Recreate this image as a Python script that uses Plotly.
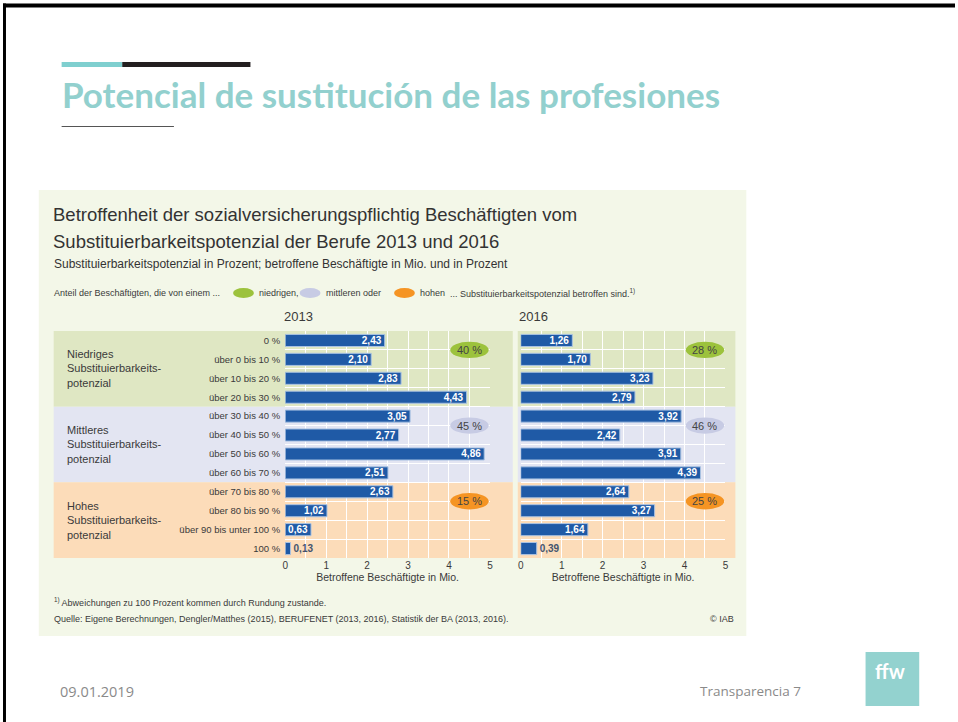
import plotly.graph_objects as go

W, H = 958, 722

def px(x):
    return x / W

def py(y):
    return 1 - y / H

# ---------------- data ----------------
categories = ["0 %", "über 0 bis 10 %", "über 10 bis 20 %", "über 20 bis 30 %",
              "über 30 bis 40 %", "über 40 bis 50 %", "über 50 bis 60 %", "über 60 bis 70 %",
              "über 70 bis 80 %", "über 80 bis 90 %", "über 90 bis unter 100 %", "100 %"]
values_2013 = [2.43, 2.10, 2.83, 4.43, 3.05, 2.77, 4.86, 2.51, 2.63, 1.02, 0.63, 0.13]
values_2016 = [1.26, 1.70, 3.23, 2.79, 3.92, 2.42, 3.91, 4.39, 2.64, 3.27, 1.64, 0.39]
group_names = ["Niedriges<br>Substituierbarkeits-<br>potenzial",
               "Mittleres<br>Substituierbarkeits-<br>potenzial",
               "Hohes<br>Substituierbarkeits-<br>potenzial"]
share_2013 = ["40 %", "45 %", "15 %"]
share_2016 = ["28 %", "46 %", "25 %"]
x_ticks = [0, 1, 2, 3, 4, 5]

# ---------------- styles ----------------
FONT = "Liberation Sans Narrow, Arial Narrow, Liberation Sans, sans-serif"
BAR = "#1f5aa6"
BAND = ["#dfe7c3", "#e3e5f2", "#fcdcb9"]
ELL = ["#9cc23c", "#c7cbe4", "#f59423"]
CREAM = "#f3f7e8"
TEXT = "#3a3a3a"

y_idx = list(range(len(categories)))


def bar_trace(vals, xa, ya):
    pos = ["inside" if v >= 0.5 else "outside" for v in vals]
    return go.Bar(
        x=vals, y=y_idx, orientation="h", xaxis=xa, yaxis=ya,
        width=0.64,
        marker=dict(color=BAR, line=dict(color="#a9c2e2", width=1)),
        texttemplate="<b>%{x:.2f}</b>", textposition=pos,
        insidetextanchor="end",
        insidetextfont=dict(color="white", size=10, family=FONT),
        outsidetextfont=dict(color="#44546e", size=10, family=FONT),
        cliponaxis=False, showlegend=False, hoverinfo="skip",
    )


fig = go.Figure()
fig.add_trace(bar_trace(values_2013, "x", "y"))
fig.add_trace(bar_trace(values_2016, "x2", "y2"))

y_dom = [py(558), py(331)]
axis_common = dict(range=[0, 5], tickvals=x_ticks, showgrid=True, gridcolor="white",
                   gridwidth=1, zeroline=False, showline=False, ticks="",
                   tickfont=dict(size=10, color=TEXT, family=FONT),
                   minor=dict(dtick=0.5, tick0=0, showgrid=True, gridcolor="white", gridwidth=1),
                   title=dict(text="Betroffene Beschäftigte in Mio.",
                              font=dict(size=10.5, color=TEXT, family=FONT), standoff=1),
                   fixedrange=True)
yaxis_common = dict(range=[11.5, -0.5], domain=y_dom, showgrid=False, zeroline=False,
                    showline=False, ticks="",
                    minor=dict(tickvals=[i + 0.5 for i in range(11)], showgrid=True,
                               gridcolor="white", gridwidth=1),
                    fixedrange=True)

fig.update_layout(
    width=W, height=H, autosize=False,
    margin=dict(l=0, r=0, t=0, b=0),
    paper_bgcolor="white", plot_bgcolor="rgba(0,0,0,0)",
    separators=",.",
    bargap=0.3,
    uniformtext=dict(minsize=9, mode="show"),
    xaxis=dict(domain=[px(284), px(490)], anchor="y", **axis_common),
    xaxis2=dict(domain=[px(521), px(727)], anchor="y2", **axis_common),
    yaxis=dict(anchor="x", tickvals=y_idx, ticktext=categories, showticklabels=True,
               ticklabelstandoff=4,
               tickfont=dict(size=9.5, color=TEXT, family=FONT), **yaxis_common),
    yaxis2=dict(anchor="x2", showticklabels=False, **yaxis_common),
)

shapes = []
# slide border (top & left)
shapes.append(dict(type="rect", xref="paper", yref="paper", x0=0, x1=1, y0=py(7.5), y1=py(3.5),
                   fillcolor="black", line=dict(width=0), layer="below"))
shapes.append(dict(type="rect", xref="paper", yref="paper", x0=0, x1=px(3), y0=0, y1=py(3.5),
                   fillcolor="black", line=dict(width=0), layer="below"))
# title decoration bars
shapes.append(dict(type="rect", xref="paper", yref="paper", x0=px(59), x1=px(120), y0=py(67), y1=py(62),
                   fillcolor="#7fcfcf", line=dict(width=0), layer="below"))
shapes.append(dict(type="rect", xref="paper", yref="paper", x0=px(120), x1=px(249), y0=py(67), y1=py(62),
                   fillcolor="#231f20", line=dict(width=0), layer="below"))
shapes.append(dict(type="line", xref="paper", yref="paper", x0=px(59), x1=px(172), y0=py(126.5), y1=py(126.5),
                   line=dict(color="#555555", width=1), layer="below"))
# chart panel background
shapes.append(dict(type="rect", xref="paper", yref="paper", x0=px(36), x1=px(748), y0=py(636), y1=py(190),
                   fillcolor=CREAM, line=dict(width=0), layer="below"))
# category bands
for g in range(3):
    y0, y1 = g * 4 - 0.5, g * 4 + 3.5
    shapes.append(dict(type="rect", xref="paper", yref="y", x0=px(51), x1=px(513), y0=y0, y1=y1,
                       fillcolor=BAND[g], line=dict(width=0), layer="below"))
    shapes.append(dict(type="rect", xref="paper", yref="y", x0=px(518), x1=px(737), y0=y0, y1=y1,
                       fillcolor=BAND[g], line=dict(width=0), layer="below"))
# share ellipses
for g in range(3):
    yc = g * 4 + 0.5
    for xr, yr in (("x", "y"), ("x2", "y2")):
        shapes.append(dict(type="circle", xref=xr, yref=yr, x0=4.03, x1=4.97,
                           y0=yc - 0.43, y1=yc + 0.43,
                           fillcolor=ELL[g], line=dict(width=0), layer="above"))
# legend ellipses (header line)
for cx, col in ((242, ELL[0]), (309, ELL[1]), (404, ELL[2])):
    shapes.append(dict(type="circle", xref="paper", yref="paper", x0=px(cx - 10.5), x1=px(cx + 10.5),
                       y0=py(298), y1=py(288), fillcolor=col, line=dict(width=0), layer="above"))
# logo box
shapes.append(dict(type="rect", xref="paper", yref="paper", x0=px(868), x1=px(922), y0=py(706), y1=py(652),
                   fillcolor="#93d2cf", line=dict(width=0), layer="below"))
fig.update_layout(shapes=shapes)

ann = []


def text(x, y, s, size, color=TEXT, family=FONT, xanchor="left", **kw):
    ann.append(dict(x=px(x), y=py(y), xref="paper", yref="paper", text=s, showarrow=False,
                    xanchor=xanchor, yanchor="middle", align=xanchor if xanchor != "center" else "center",
                    font=dict(size=size, color=color, family=family), **kw))


# slide title
text(57, 94, "<b>Potencial de sustitución de las profesiones</b>", 35, color="#92d0ce",
     family="Lato, Open Sans, sans-serif")
# chart titles
text(48, 215, "Betroffenheit der sozialversicherungspflichtig Beschäftigten vom", 18.5, color="#333333")
text(48, 241, "Substituierbarkeitspotenzial der Berufe 2013 und 2016", 18.5, color="#333333")
text(49, 264, "Substituierbarkeitspotenzial in Prozent; betroffene Beschäftigte in Mio. und in Prozent", 12,
     color="#333333")
# legend line
text(49, 293, "Anteil der Beschäftigten, die von einem ...", 9)
text(256, 293, "niedrigen,", 9)
text(323, 293, "mittleren oder", 9)
text(418, 293, "hohen", 9)
text(448, 293, "... Substituierbarkeitspotenzial betroffen sind.<sup>1)</sup>", 9)
# year headers
text(297, 316, "2013", 13, xanchor="center")
text(534, 316, "2016", 13, xanchor="center")
# group labels
for g in range(3):
    ann.append(dict(x=px(62), y=g * 4 + 1.5, xref="paper", yref="y", text=group_names[g],
                    showarrow=False, xanchor="left", yanchor="middle", align="left",
                    font=dict(size=11, color=TEXT, family=FONT)))
# share labels
for g in range(3):
    yc = g * 4 + 0.5
    ann.append(dict(x=4.5, y=yc, xref="x", yref="y", text=share_2013[g], showarrow=False,
                    font=dict(size=11, color="#444444", family=FONT)))
    ann.append(dict(x=4.5, y=yc, xref="x2", yref="y2", text=share_2016[g], showarrow=False,
                    font=dict(size=11, color="#444444", family=FONT)))
# footnotes
text(49, 602, "<sup>1)</sup> Abweichungen zu 100 Prozent kommen durch Rundung zustande.", 9)
text(49, 619, "Quelle: Eigene Berechnungen, Dengler/Matthes (2015), BERUFENET (2013, 2016), Statistik der BA (2013, 2016).", 9)
text(738, 619, "© IAB", 9, xanchor="right")
# slide footer
text(55, 691, "09.01.2019", 14.5, color="#8a8a8a", family="Open Sans, Lato, sans-serif")
text(805, 691, "Transparencia 7", 13.5, color="#8a8a8a", family="Open Sans, Lato, sans-serif", xanchor="right")
text(893, 671, "<b>ffw</b>", 20, color="white", family="Lato, sans-serif", xanchor="center")

fig.update_layout(annotations=ann)

fig.write_html("out.html", config={"displayModeBar": False, "staticPlot": True},
               post_script="document.body.style.margin='0';document.body.style.padding='0';")
